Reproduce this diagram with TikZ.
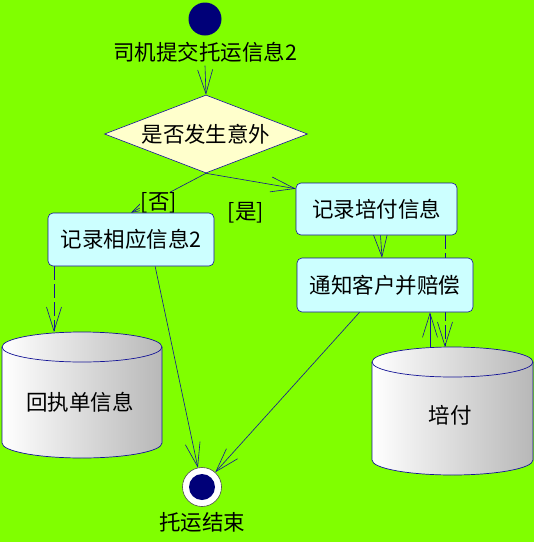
\documentclass[tikz,border=0pt]{standalone}
\usepackage{fontspec}
\setmainfont{Noto Sans CJK SC}
\usetikzlibrary{calc,shapes.geometric,arrows.meta}
\definecolor{bggreen}{RGB}{128,255,0}
\definecolor{umlblue}{RGB}{20,20,150}
\definecolor{umlnavy}{RGB}{0,0,120}
\definecolor{actfill}{RGB}{204,255,255}
\definecolor{decfill}{RGB}{255,255,204}
\pgfdeclarelayer{background}
\pgfsetlayers{background,main}
\def\storecyl(#1,#2,#3)(#4:#5){%
	\draw[store] ({#1-#4},#2) -- ({#1-#4},#3) arc[start angle=180, end angle=360, x radius=#4pt, y radius=#5pt] -- ({#1+#4},#2) arc[start angle=0, end angle=180, x radius=#4pt, y radius=#5pt] -- cycle;
	\draw[umlblue, line width=0.7pt] ({#1-#4},#2) arc[start angle=180, end angle=360, x radius=#4pt, y radius=#5pt];}

\begin{document}
\begin{tikzpicture}[x=1pt, y=-1pt,
		every node/.style={font=\fontsize{21.5}{25}\selectfont},
		activity/.style={draw=umlblue, fill=actfill, rounded corners=5pt, line width=0.6pt, inner sep=0pt},
		decision/.style={draw=umlblue, fill=decfill, diamond, aspect=2.6, inner sep=0pt, minimum width=203pt, minimum height=78pt, line width=0.6pt},
		flow/.style={draw=umlblue, line width=0.6pt, -{Straight Barb[length=24pt,width=15pt,line width=0.6pt]}},
		guard/.style={fill=bggreen, inner sep=1pt},
		store/.style={draw=umlblue, line width=0.7pt, left color=white, right color=black!28}]
		%%%%% START %%%%%
		
		\useasboundingbox (0, 0) rectangle (534, 542);
		
		\node[circle, fill=umlnavy, minimum size=33pt, inner sep=0pt] (start) at (205, 19) {};
		\node (startlbl) at (205, 52) {司机提交托运信息2};
		
		\node[decision] (dia) at (206, 134) {是否发生意外};
		
		\node[guard] (no) at (159, 203) {[否]};
		\node[guard] (yes) at (246, 213) {[是]};
		
		\node[activity, minimum width=166pt, minimum height=53pt] (recinfo) at (131, 239.5) {记录相应信息2};
		\node[activity, minimum width=161pt, minimum height=52pt] (recpay) at (376.5, 209) {记录培付信息};
		\node[activity, minimum width=176pt, minimum height=54pt] (notify) at (385, 285) {通知客户并赔偿};
		
		\storecyl(82,347,443)(80:15)
		\node (recstore) at (80, 402) {回执单信息};
		\storecyl(452.5,362,460)(80.5:15)
		\node (paystore) at (450, 415) {培付};
		
		\coordinate (recstoretop) at (54, 332);
		\coordinate (paystoretop) at (445, 347);
		\coordinate (paystoreback) at (430, 347);
		
		\node[circle, draw=black!70, fill=white, minimum size=39pt, inner sep=0pt, line width=0.6pt] (end) at (202, 487) {};
		\node[circle, fill=umlnavy, minimum size=26pt, inner sep=0pt] (endcore) at (end) {};
		\node (endlbl) at (202, 522) {托运结束};
		
		\begin{pgfonlayer}{background}
			\fill[bggreen] (0, 0) rectangle (534, 542);
			\draw[flow] (startlbl.south) -- (dia.north);
			\draw[flow] (dia.south) -- (recinfo.north);
			\draw[flow] (dia.south) -- ($(recpay.north west)+(0, 6)$);
			\draw[flow] ($(recpay.south)+(4, 0)$) -- ($(notify.north)+(-3, 0)$);
			\draw[flow, dash pattern=on 14pt off 4pt] (recpay.south -| paystoretop) -- (paystoretop);
			\draw[flow] (paystoreback) -- (notify.south -| paystoreback);
			\draw[flow, dash pattern=on 14pt off 4pt] (recinfo.south -| recstoretop) -- (recstoretop);
			\draw[flow] (recinfo.-48) -- (end);
			\draw[flow] (notify.-133) -- (end);
		\end{pgfonlayer}
		
		%%%%% END %%%%%
	\end{tikzpicture}
\end{document}
